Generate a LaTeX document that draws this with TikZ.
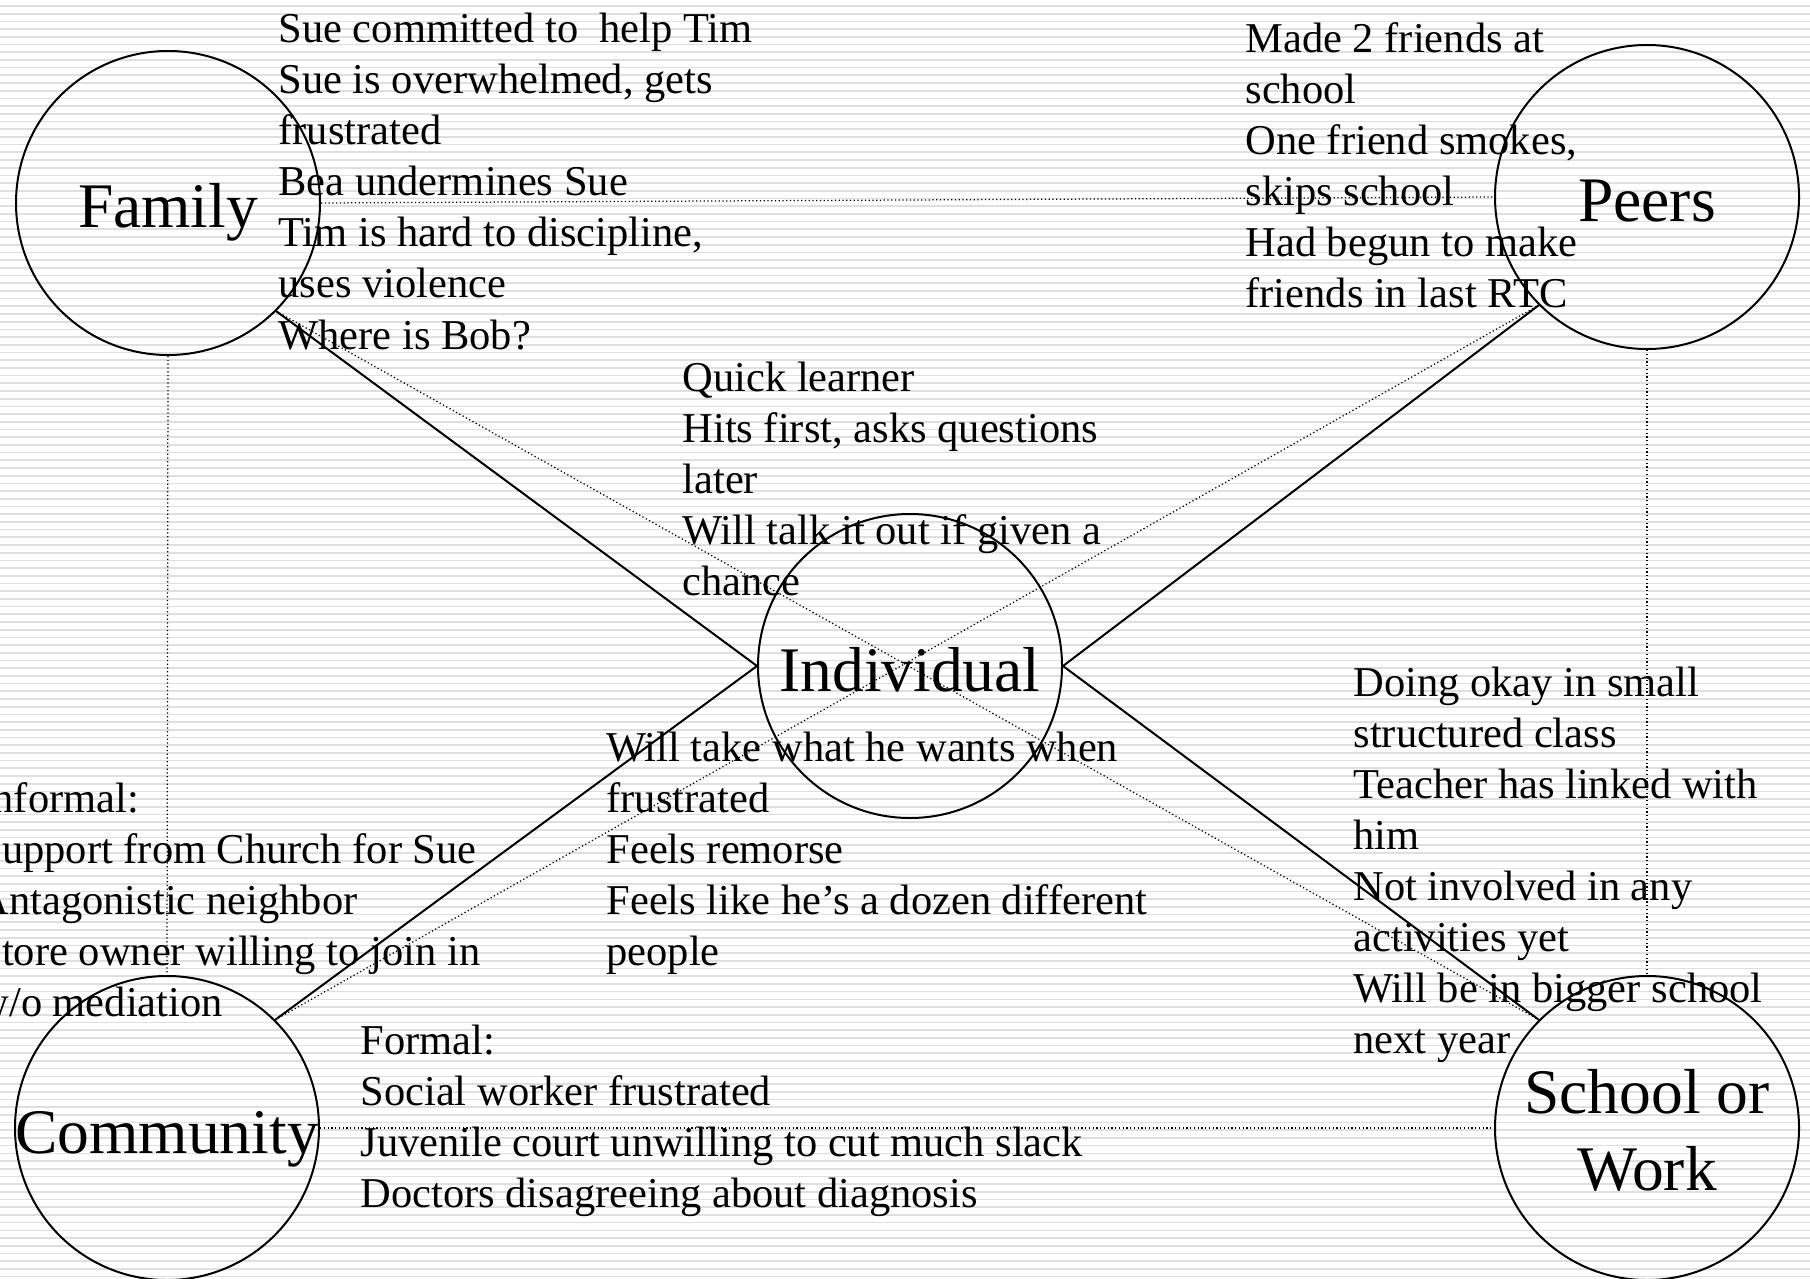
\documentclass[tikz,border=0pt]{standalone}
\usepackage{fontspec}
\setmainfont{Liberation Serif}
\begin{document}
\begin{tikzpicture}[x=0.4pt,y=-0.4pt,
  ring/.style={circle, draw, line width=0.8pt, minimum size=121.6pt, inner sep=0pt},
  tag/.style={font=\fontsize{25.4pt}{30.8pt}\selectfont, inner sep=0pt, align=center},
  note/.style={font=\fontsize{17pt}{20.4pt}\selectfont, inner sep=0pt, align=left, anchor=base west},
  link/.style={line width=0.8pt},
  tie/.style={densely dotted, line width=0.5pt}]
\useasboundingbox (0,0) rectangle (1810,1278);
\clip (0,0) rectangle (1810,1278);
% striped backdrop
\fill[white] (0,0) rectangle (1810,1278);
\foreach \k in {0,...,165}
  \draw[gray!25, line width=0.65pt] (0,6+7.7*\k) -- (1810,6+7.7*\k);

% the five systems
\node[ring] (fam)  at (168,203)  {};
\node[ring] (peer) at (1647,197) {};
\node[ring] (ind)  at (910,666)  {};
\node[ring] (comm) at (167,1128) {};
\node[ring] (work) at (1647,1128) {};

\node[tag, anchor=base] (famtag)  at ([yshift=-10pt]fam.center)  {Family};
\node[tag, anchor=base] (peertag) at ([yshift=-10pt]peer.center) {Peers};
\node[tag, anchor=base] (indtag)  at ([yshift=-10pt]ind.center)  {Individual};
\node[tag, anchor=base] (commtag) at ([yshift=-10pt]comm.center) {Community};
\node[tag, anchor=base] (worktag) at ([yshift=-24.8pt]work.center) {School or\\Work};

% links between the outer systems
\draw[tie] (fam.east) -- (peer.west);
\draw[tie] (fam.south) -- (comm.north);
\draw[tie] (peer.south) -- (work.north);
\draw[tie] (comm.east) -- (work.west);
\draw[tie] (fam.south east) -- (work.north west);
\draw[tie] (comm.north east) -- (peer.south west);

% links to the individual
\draw[link] (fam.south east) -- (ind.west);
\draw[link] (comm.north east) -- (ind.west);
\draw[link] (peer.south west) -- (ind.east);
\draw[link] (work.north west) -- (ind.east);

% notes (each placed by the baseline of its last line)
\node[note] (famtxt) at (278,349) {Sue committed to~ help Tim\\Sue is overwhelmed, gets\\frustrated\\Bea undermines Sue\\Tim is hard to discipline,\\uses violence\\Where is Bob?};
\node[note] (peertxt) at (1245,308) {Made 2 friends at\\school\\One friend smokes,\\skips school\\Had begun to make\\friends in last RTC};
\node[note] (indtop) at (682,595) {Quick learner\\Hits first, asks questions\\later\\Will talk it out if given a\\chance};
\node[note] (indbot) at (606,965) {Will take what he wants when\\frustrated\\Feels remorse\\Feels like he’s a dozen different\\people};
\node[note] (informal) at (-22,1016) {Informal:\\Support from Church for Sue\\Antagonistic neighbor\\Store owner willing to join in\\w/o mediation};
\node[note] (formal) at (360,1207) {Formal:\\Social worker frustrated\\Juvenile court unwilling to cut much slack\\Doctors disagreeing about diagnosis};
\node[note] (worktxt) at (1353,1053) {Doing okay in small\\structured class\\Teacher has linked with\\him\\Not involved in any\\activities yet\\Will be in bigger school\\next year};
\end{tikzpicture}
\end{document}
